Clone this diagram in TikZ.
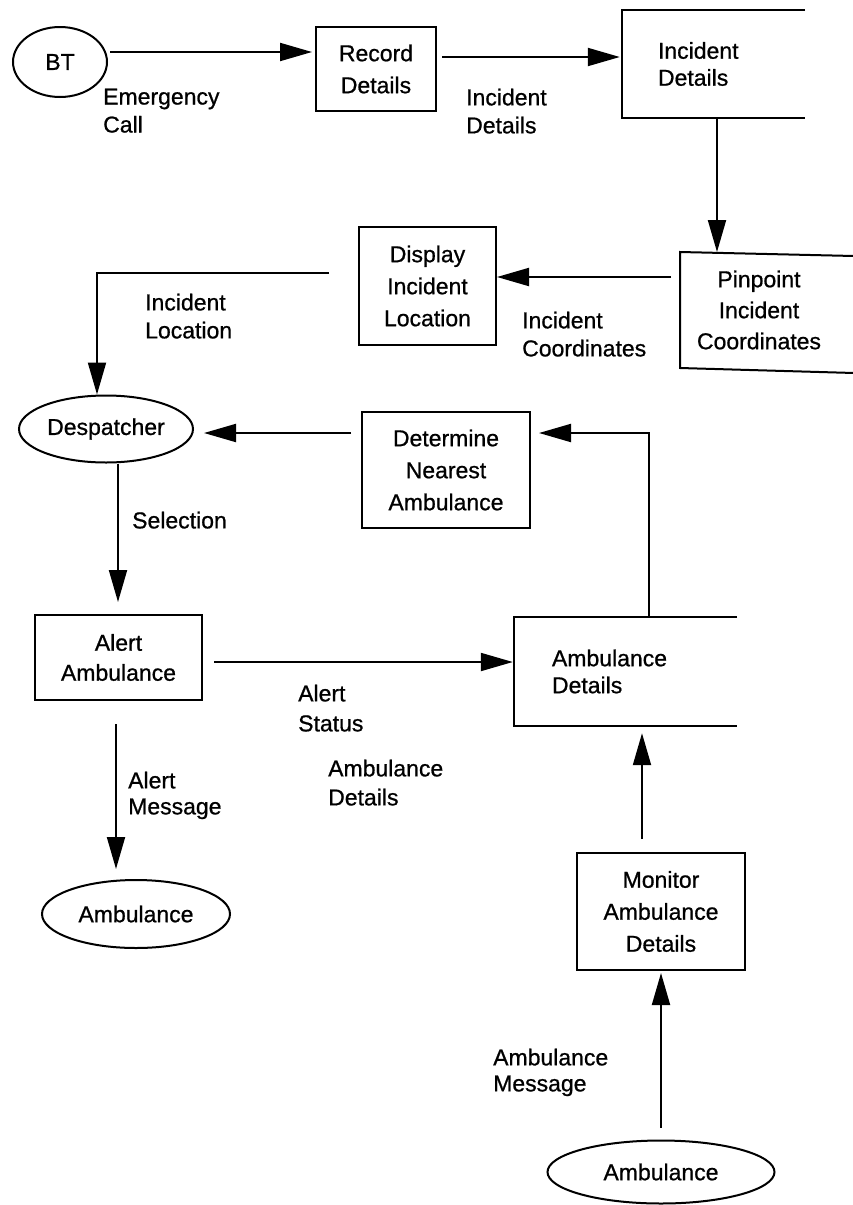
\documentclass[tikz,border=0pt]{standalone}
\usepackage{fontspec}
\setmainfont[FakeBold=0.8]{Liberation Sans}
\usetikzlibrary{arrows.meta,shapes.geometric}

\begin{document}
\begin{tikzpicture}[x=1pt, y=-1pt,
    every node/.style={font=\fontsize{23pt}{28pt}\selectfont},
    proc/.style={draw, line width=2pt, align=center, inner sep=0pt,
        font=\fontsize{23pt}{32pt}\selectfont},
    ext/.style={draw, ellipse, line width=2pt, inner sep=0pt},
    store/.style={inner sep=0pt, align=left, font=\fontsize{23pt}{27pt}\selectfont},
    storeline/.style={line width=2pt},
    flow/.style={line width=2pt, -{Triangle[length=32pt, width=18pt]}},
    lbl/.style={anchor=north west, inner sep=0pt, align=left}]
    \useasboundingbox (0,0) rectangle (853,1205);

    % External entities
    \node[ext, minimum width=94pt, minimum height=70pt] (bt) at (60,62) {BT};
    \node[ext, minimum width=174pt, minimum height=67pt] (desp) at (106,429) {Despatcher};
    \node[ext, minimum width=188pt, minimum height=68pt] (amb1) at (136,914) {Ambulance};
    \node[ext, minimum width=227pt, minimum height=63pt] (amb2) at (661,1172) {Ambulance};

    % Processes
    \node[proc, minimum width=120pt, minimum height=84pt] (rec) at (376,69) {Record\\Details};
    \node[proc, minimum width=137pt, minimum height=118pt] (disp) at (427.5,286) {Display\\Incident\\Location};
    \node[proc, minimum width=168pt, minimum height=116pt] (det) at (446,470) {Determine\\Nearest\\Ambulance};
    \node[proc, minimum width=167pt, minimum height=85pt, font=\fontsize{23pt}{30pt}\selectfont] (alert) at (118.5,657.5) {Alert\\Ambulance};
    \node[proc, minimum width=168pt, minimum height=117pt] (mon) at (661,911.5) {Monitor\\Ambulance\\Details};
    \node[proc, draw=none, minimum width=156pt, minimum height=114pt, font=\fontsize{23pt}{31pt}\selectfont] (pin) at (759,310) {Pinpoint\\Incident\\Coordinates};
    \draw[storeline] ([xshift=16pt,yshift=-4pt]pin.north east) -- (pin.north west)
        -- (pin.south west) -- ([xshift=16pt,yshift=-5pt]pin.south east);

    % Data stores
    \node[store, minimum width=183pt, minimum height=108pt, text width=111pt] (inc) at (713.5,64) {Incident\\Details};
    \draw[storeline] (inc.north east) -- (inc.north west) -- (inc.south west) -- (inc.south east);
    \node[store, minimum width=223pt, minimum height=109pt, text width=147pt] (ad) at (625.5,671.5) {Ambulance\\Details};
    \draw[storeline] (ad.north east) -- (ad.north west) -- (ad.south west) -- (ad.south east);

    % Data flows
    \draw[flow, shorten <=2pt, shorten >=3pt] ([yshift=10pt]bt.east) -- ([yshift=10pt]bt.east -| rec.west);
    \draw[flow, shorten <=5pt, shorten >=2pt] ([yshift=12pt]rec.east) -- ([yshift=12pt]rec.east -| inc.west);
    \draw[flow] ([xshift=3.5pt]inc.south) -- ([xshift=3.5pt]inc.south |- pin.north);
    \draw[flow, shorten <=9pt] ([yshift=33pt]pin.west) -- ([yshift=33pt]pin.west -| disp.east);
    \draw[flow, shorten <=29pt] ([yshift=13pt]disp.west) -| ([xshift=-9pt]desp.north);
    \draw[flow, shorten <=10pt, shorten >=10pt] ([yshift=37pt]det.west) -- ([yshift=37pt]det.west -| desp.east);
    \draw[flow, shorten >=8pt] ([xshift=23.5pt]ad.north) |- ([yshift=37pt]det.east);
    \draw[flow, shorten >=12pt] ([xshift=12pt]desp.south) -- ([xshift=12pt]desp.south |- alert.north);
    \draw[flow, shorten <=11pt, shorten >=1pt] ([yshift=-4.5pt]alert.east) -- ([yshift=-4.5pt]alert.east -| ad.west);
    \draw[flow, shorten <=23pt, shorten >=10pt] ([xshift=-2.5pt]alert.south) -- ([xshift=-2.5pt]alert.south |- amb1.north);
    \draw[flow, shorten <=13pt, shorten >=7pt] ([xshift=-19pt]mon.north) -- ([xshift=-19pt]mon.north |- ad.south);
    \draw[flow, shorten <=12pt, shorten >=2pt] (amb2.north) -- (amb2.north |- mon.south);

    % Flow labels
    \node[lbl] (lcall) at (103,88.5) {Emergency\\Call};
    \node[lbl] (linc) at (466,88.5) {Incident\\Details};
    \node[lbl] (lloc) at (145,293.5) {Incident\\Location};
    \node[lbl] (lcoord) at (522,311.5) {Incident\\Coordinates};
    \node[lbl] (lsel) at (132,511.5) {Selection};
    \node[lbl, font=\fontsize{23pt}{30pt}\selectfont] (lstat) at (298,684.5) {Alert\\Status};
    \node[lbl, font=\fontsize{23pt}{29pt}\selectfont] (ldet) at (328,759.5) {Ambulance\\Details};
    \node[lbl, font=\fontsize{23pt}{26pt}\selectfont] (lmsg) at (128,771.5) {Alert\\Message};
    \node[lbl, font=\fontsize{23pt}{26pt}\selectfont] (lamsg) at (493,1048.5) {Ambulance\\Message};
\end{tikzpicture}
\end{document}
